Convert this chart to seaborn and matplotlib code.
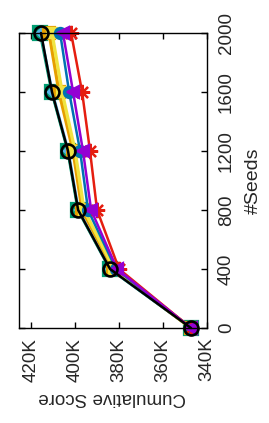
import matplotlib
matplotlib.use("Agg")
import matplotlib.pyplot as plt
import seaborn as sns
import pandas as pd

seeds = [0, 400, 800, 1200, 1600, 2000]
teal = [347.3, 384.3, 398.8, 403.4, 410.7, 416.0]
lightblue = [347.3, 384.0, 398.4, 403.0, 410.3, 415.6]
orange = [347.3, 382.7, 396.8, 400.9, 407.3, 411.8]
yellow = [347.3, 382.3, 395.9, 400.0, 405.9, 410.5]
blue = [347.3, 381.4, 394.1, 397.7, 402.7, 406.8]
red = [347.3, 380.0, 390.0, 393.2, 396.8, 401.8]
purple = [347.3, 380.9, 392.7, 396.4, 400.9, 405.5]
black = [347.3, 384.1, 398.6, 403.2, 410.5, 415.5]

score_ticks = [340, 360, 380, 400, 420]
seed_ticks = [0, 400, 800, 1200, 1600, 2000]

series = [
    ("teal", teal, "#009E73", "s", 10, 1.8),
    ("lightblue", lightblue, "#56B4E9", "D", 4, 1.8),
    ("orange", orange, "#E69F00", "s", 9, 2.4),
    ("yellow", yellow, "#F0E442", "s", 7, 2.4),
    ("blue", blue, "#0072B2", "o", 8, 1.8),
    ("red", red, "#E51E10", (8, 2, 0), 11, 1.8),
    ("purple", purple, "#9400D3", "<", 8.5, 1.8),
    ("black", black, "#000000", "o", 10, 1.8),
]

sns.set_style("white")
plt.rcParams["font.family"] = ["Liberation Sans", "DejaVu Sans"]

W, H = 269, 423
fig = plt.figure(figsize=(W / 100, H / 100), dpi=100)
L, R, T, B = 19, 207, 33, 328
ax = fig.add_axes([L / W, 1 - B / H, (R - L) / W, (B - T) / H])

for name, vals, col, mk, ms, lw in series:
    df = pd.DataFrame({"Score": [v * 1000 for v in vals], "Seeds": seeds})
    mfc = "none" if name == "black" else col
    sns.lineplot(data=df, x="Score", y="Seeds", sort=False, ax=ax, color=col,
                 marker=mk, markersize=ms, markerfacecolor=mfc,
                 markeredgecolor=col, markeredgewidth=1.6 if name != "black" else 1.9,
                 linewidth=lw, clip_on=False, legend=False)

ax.set_xlim(425500, 340000)
ax.set_ylim(0, 2000)
ax.set_xticks([v * 1000 for v in score_ticks])
ax.set_xticklabels([f"{v}K" for v in score_ticks], rotation=90, fontsize=13.5)
ax.set_yticks(seed_ticks)
ax.set_yticklabels([str(v) for v in seed_ticks], rotation=90, fontsize=13.5, va="center")
ax.yaxis.tick_right()
ax.tick_params(axis="both", direction="in", length=4, width=1, color="black",
               top=True, bottom=True, left=True, right=True)
ax.tick_params(axis="x", pad=7)
ax.tick_params(axis="y", pad=8)
ax.yaxis.set_label_position("right")
ax.set_ylabel("#Seeds", fontsize=14, rotation=90)
ax.yaxis.set_label_coords((253 - L) / (R - L), 0.5)
ax.set_xlabel("Cumulative Score", fontsize=13.5, rotation=180)
ax.xaxis.set_label_coords(0.495, (B - 397) / (B - T))
ax.xaxis.label.set_va("center")
ax.yaxis.label.set_va("center")
for s in ax.spines.values():
    s.set_color("black")
    s.set_linewidth(1)
    s.set_visible(True)
ax.grid(False)

fig.savefig("out.png", dpi=100)
